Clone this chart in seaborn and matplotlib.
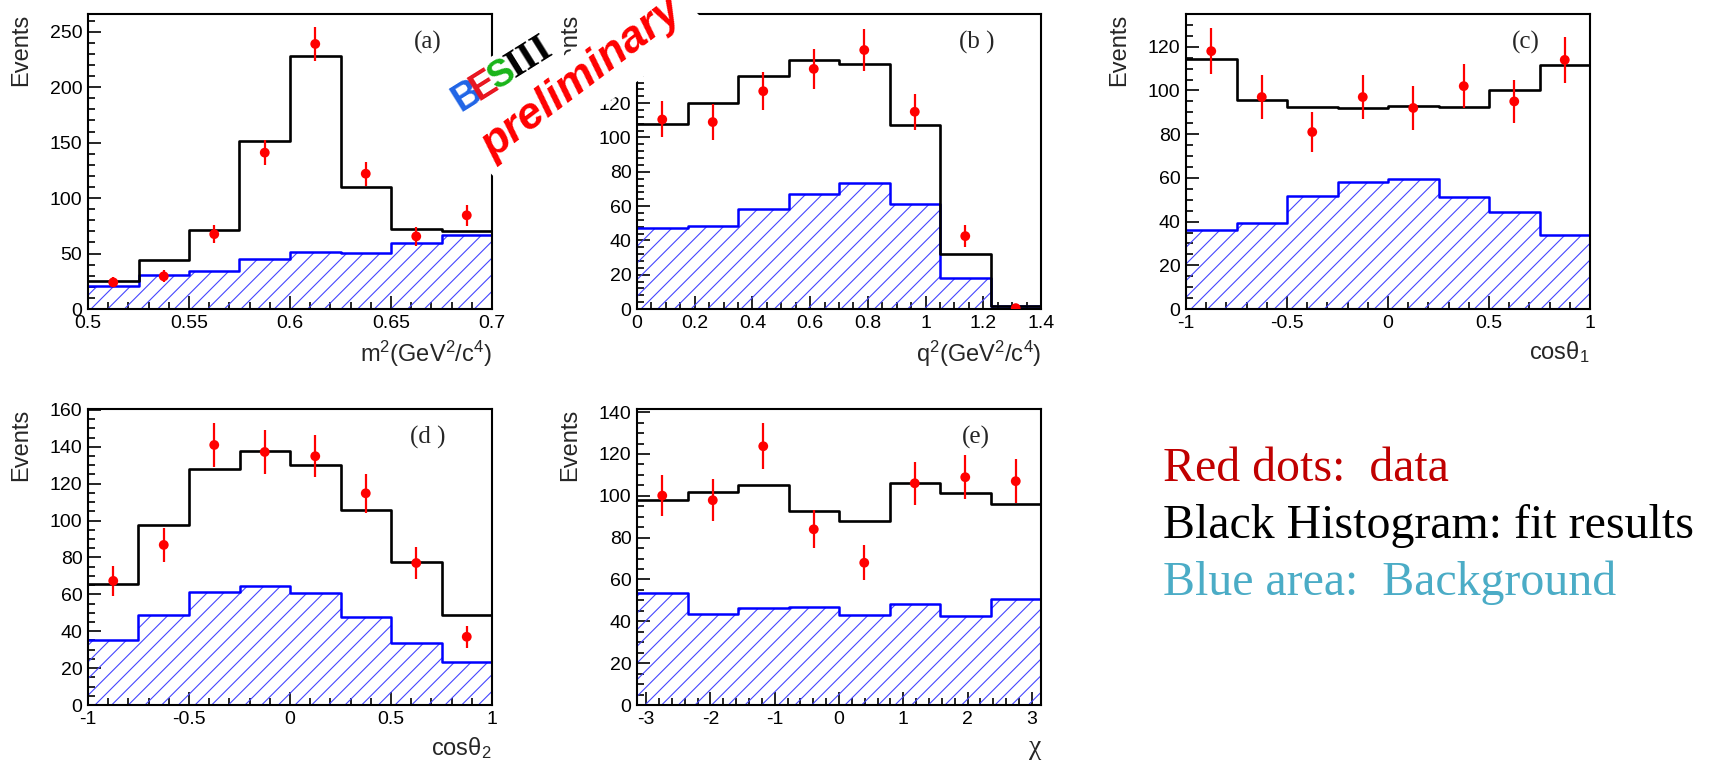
import numpy as np
import pandas as pd
import matplotlib
matplotlib.use("Agg")
import matplotlib.pyplot as plt
import seaborn as sns
from matplotlib.patches import Polygon
from matplotlib.ticker import MultipleLocator

# ---------------- data ----------------
a_range = [0.5, 0.7]
a_fit = [25, 44.5, 71, 151.5, 228, 110, 72, 70.5]
a_bkg = [20.5, 31, 34, 45.5, 51.5, 50.5, 59.5, 66.5]
a_data = [24, 29.5, 67.5, 141, 239, 122, 65.5, 84.5]
a_err = [4.5, 5.5, 8, 11.5, 15.5, 11, 8.5, 9.5]

b_range = [0.0, 1.4]
b_fit = [108, 120, 136, 145, 143, 107, 32, 1.5]
b_bkg = [47, 48.5, 58.5, 67, 73.5, 61.5, 18, 1.5]
b_data = [110.5, 109, 127, 140, 151, 115, 42.5, 0.5]
b_err = [10.5, 10.5, 11, 11.5, 12, 10.5, 6.3, 0.5]

c_range = [-1.0, 1.0]
c_fit = [114.5, 95.5, 92.3, 91.8, 92.7, 92.3, 100, 111.8]
c_bkg = [36, 39.2, 51.5, 58.3, 59.6, 51.1, 44.2, 34]
c_data = [118, 97, 81, 97, 92, 102, 95, 114]
c_err = [10.5, 10, 9, 10, 10, 10, 10, 10.5]

d_range = [-1.0, 1.0]
d_fit = [65.4, 97.8, 128.2, 137.8, 130.2, 105.6, 77.4, 49]
d_bkg = [35, 49, 61.3, 64.7, 60.7, 47.5, 33.8, 23.3]
d_data = [67.3, 86.8, 141, 137.2, 134.9, 114.8, 77, 37]
d_err = [8, 9, 12, 12, 11.5, 10.5, 8.6, 6]

e_range = [-np.pi, np.pi]
e_fit = [97.9, 102, 105.2, 92.8, 88.1, 106.3, 101.5, 96.1]
e_bkg = [53.5, 43.4, 46.3, 46.8, 42.9, 48.4, 42.5, 50.6]
e_data = [100.1, 97.9, 123.7, 84, 68, 106, 108.9, 107]
e_err = [9.8, 10, 11, 9, 8.3, 10.4, 10.5, 10.4]

panel_tags = ["(a)", "(b )", "(c)", "(d )", "(e)"]
x_titles = [r"m$^{2}$(GeV$^{2}$/c$^{4}$)", r"q$^{2}$(GeV$^{2}$/c$^{4}$)",
            r"cos$\mathrm{\theta}_{1}$", r"cos$\mathrm{\theta}_{2}$", "χ"]
y_title = "Events"
legend_lines = ["Red dots:  data", "Black Histogram: fit results", "Blue area:  Background"]

# ---------------- style ----------------
sns.set_theme(style="ticks")
plt.rcParams["font.family"] = ["Liberation Sans", "DejaVu Sans"]
plt.rcParams["mathtext.fontset"] = "custom"
plt.rcParams["mathtext.rm"] = "Liberation Sans"
plt.rcParams["mathtext.it"] = "Liberation Sans:italic"
plt.rcParams["hatch.linewidth"] = 0.8
plt.rcParams["hatch.color"] = "#4646ff"

W, H = 1713, 765
fig = plt.figure(figsize=(W / 100, H / 100), dpi=100)


def px_axes(l, t, r, b):
    return fig.add_axes([l / W, 1 - b / H, (r - l) / W, (b - t) / H])


panels = [
    dict(box=(88, 14, 492, 309), rng=a_range, fit=a_fit, bkg=a_bkg, data=a_data, err=a_err,
         ylim=266, xmaj=0.05, xmin=0.01, ymaj=50, ymin=10),
    dict(box=(637, 14, 1041, 309), rng=b_range, fit=b_fit, bkg=b_bkg, data=b_data, err=b_err,
         ylim=172, xmaj=0.2, xmin=0.05, ymaj=20, ymin=4),
    dict(box=(1186, 14, 1590, 309), rng=c_range, fit=c_fit, bkg=c_bkg, data=c_data, err=c_err,
         ylim=135, xmaj=0.5, xmin=0.1, ymaj=20, ymin=5),
    dict(box=(88, 409, 492, 705), rng=d_range, fit=d_fit, bkg=d_bkg, data=d_data, err=d_err,
         ylim=160.5, xmaj=0.5, xmin=0.1, ymaj=20, ymin=5),
    dict(box=(637, 409, 1041, 705), rng=e_range, fit=e_fit, bkg=e_bkg, data=e_data, err=e_err,
         ylim=141.5, xmaj=1, xmin=0.2, ymaj=20, ymin=5),
]

for i, p in enumerate(panels):
    ax = px_axes(*p["box"])
    edges = np.linspace(p["rng"][0], p["rng"][1], len(p["fit"]) + 1)
    centers = 0.5 * (edges[:-1] + edges[1:])
    bins = edges.tolist()
    df = pd.DataFrame({"x": centers, "fit": p["fit"], "bkg": p["bkg"],
                       "data": p["data"], "err": p["err"]})

    # hatched background area
    n_before = len(ax.collections)
    sns.histplot(data=df, x="x", weights="bkg", bins=bins, element="step", fill=True,
                 color="#4646ff", hatch="//", ax=ax)
    for coll in ax.collections[n_before:]:
        coll.set_facecolor("none")
        coll.set_linewidth(0)
    # background outline
    sns.histplot(data=df, x="x", weights="bkg", bins=bins, element="step", fill=False,
                 color="#0000ff", linewidth=1.8, ax=ax)
    # fit result histogram
    sns.histplot(data=df, x="x", weights="fit", bins=bins, element="step", fill=False,
                 color="black", linewidth=1.9, ax=ax)
    # data points
    ax.errorbar(df["x"], df["data"], yerr=df["err"], fmt="none", ecolor="red",
                elinewidth=1.6, capsize=0, zorder=5)
    sns.scatterplot(data=df, x="x", y="data", color="red", s=50, edgecolor="none",
                    zorder=6, ax=ax)

    ax.set_xlim(p["rng"])
    ax.set_ylim(0, p["ylim"])
    ax.xaxis.set_major_locator(MultipleLocator(p["xmaj"]))
    ax.xaxis.set_minor_locator(MultipleLocator(p["xmin"]))
    ax.yaxis.set_major_locator(MultipleLocator(p["ymaj"]))
    ax.yaxis.set_minor_locator(MultipleLocator(p["ymin"]))
    ax.tick_params(which="both", direction="in", top=False, right=False,
                   colors="black", labelsize=14, width=1.2)
    ax.tick_params(which="major", length=9.5, pad=4)
    ax.tick_params(which="minor", length=5)
    ax.xaxis.set_major_formatter(matplotlib.ticker.FuncFormatter(
        lambda v, pos: ("%g" % round(v, 6))))
    for s in ax.spines.values():
        s.set_visible(True)
        s.set_linewidth(1.5)
        s.set_color("black")

    ax.set_ylabel(y_title, fontsize=17, loc="top")
    ax.yaxis.set_label_coords(-56 / 404, 1.0)
    if x_titles[i] == "χ":
        ax.set_xlabel(x_titles[i], fontsize=20, loc="right", family="Liberation Serif")
    else:
        ax.set_xlabel(x_titles[i], fontsize=17, loc="right")
    ax.xaxis.set_label_coords(1.0, -30 / 295)
    ax.text(0.84, 0.905, panel_tags[i], transform=ax.transAxes, ha="center", va="center",
            fontsize=18, family="Liberation Serif")
    ax.set_facecolor("white")


# ---------------- white cover of the logo ----------------
def fig_poly(pts):
    return [(x / W, 1 - y / H) for x, y in pts]


fig.add_artist(Polygon(fig_poly([(455, 136), (665, -19), (712, 28), (498, 181)]),
                       closed=True, transform=fig.transFigure, facecolor="white",
                       edgecolor="none", zorder=10))
fig.add_artist(Polygon(fig_poly([(448, 82), (540, 28), (562, 70), (470, 124)]),
                       closed=True, transform=fig.transFigure, facecolor="white",
                       edgecolor="none", zorder=10))

# BESIII logo letters
for ch, (x, y), col, fam, fs in [("B", (467, 96), "#1f64e6", "Liberation Sans", 28),
                                ("E", (484, 86), "#e8141e", "Liberation Sans", 27),
                                ("S", (502, 75), "#19b419", "Liberation Sans", 27),
                                ("III", (530, 57), "black", "Liberation Serif", 29)]:
    fig.text(x / W, 1 - y / H, ch, rotation=32, rotation_mode="anchor", ha="center",
             va="center", fontsize=fs, fontweight="bold", color=col, family=fam, zorder=11)

fig.text(582 / W, 1 - 78 / H, "preliminary", rotation=37, rotation_mode="anchor",
         ha="center", va="center", fontsize=32, fontweight="bold", style="italic",
         color="#ff0000", family="Liberation Sans", zorder=11)

# ---------------- legend-like text ----------------
for txt, y, col in zip(legend_lines, [481, 538, 595], ["#c00000", "black", "#4bacc6"]):
    fig.text(1163 / W, 1 - y / H, txt, ha="left", va="baseline", fontsize=34.5,
             family="Liberation Serif", color=col)

fig.savefig("out.png", dpi=100, facecolor="white")
